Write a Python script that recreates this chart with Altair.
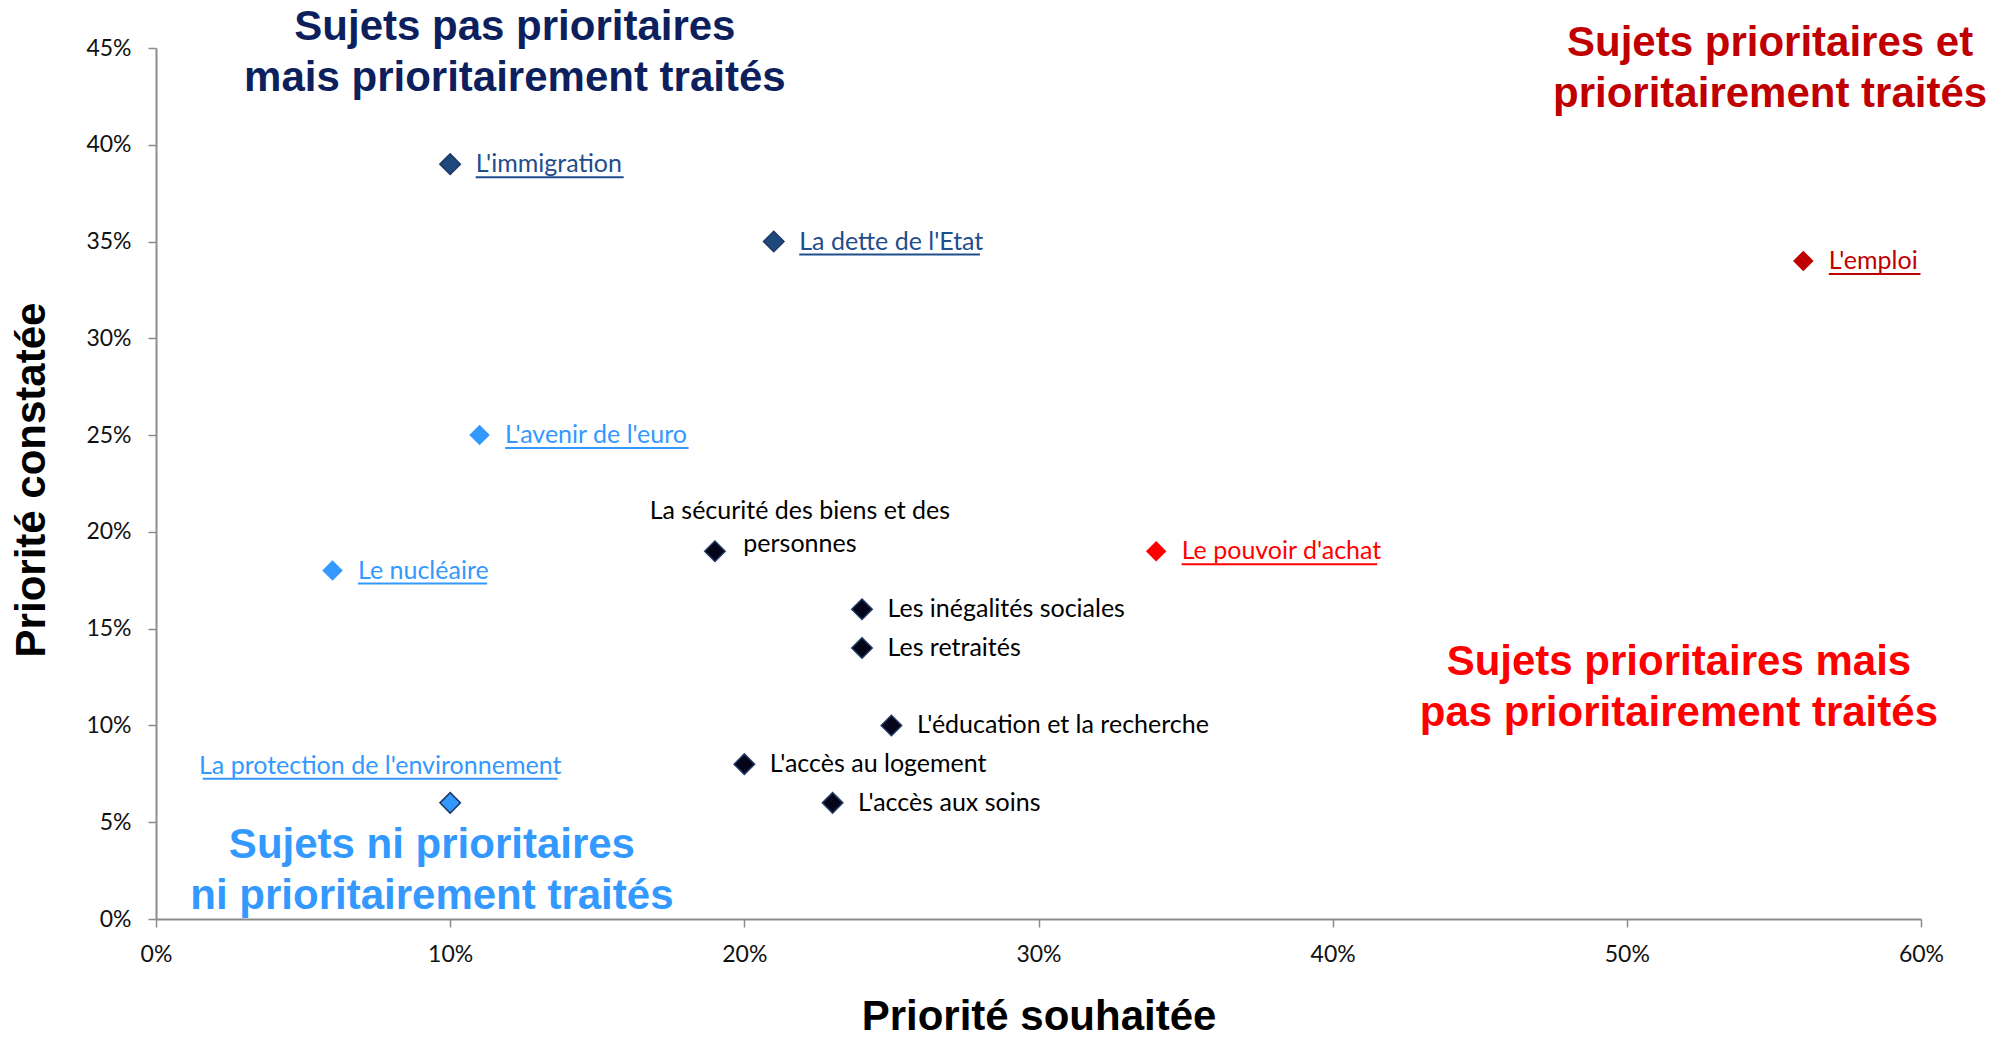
import altair as alt
import pandas as pd

# ---------------- data ----------------
sujets = [
    "L'immigration", "La dette de l'Etat", "L'emploi", "L'avenir de l'euro",
    "Le nucléaire", "La sécurité des biens et des personnes", "Le pouvoir d'achat",
    "Les inégalités sociales", "Les retraités", "L'éducation et la recherche",
    "L'accès au logement", "L'accès aux soins", "La protection de l'environnement",
]
priorite_souhaitee = [0.10, 0.21, 0.56, 0.11, 0.06, 0.19, 0.34, 0.24, 0.24, 0.25, 0.20, 0.23, 0.10]
priorite_constatee = [0.39, 0.35, 0.34, 0.25, 0.18, 0.19, 0.19, 0.16, 0.14, 0.10, 0.08, 0.06, 0.06]
groupes = ["pas_mais", "pas_mais", "et", "ni_ni", "ni_ni", "neutre", "mais_pas",
           "neutre", "neutre", "neutre", "neutre", "neutre", "ni_ni"]

quadrant_textes = [
    "Sujets pas prioritaires\nmais prioritairement traités",
    "Sujets prioritaires et\nprioritairement traités",
    "Sujets prioritaires mais\npas prioritairement traités",
    "Sujets ni prioritaires\nni prioritairement traités",
]
quadrant_groupes = ["pas_mais", "et", "mais_pas", "ni_ni"]
quadrant_x = [0.122, 0.5487, 0.5177, 0.0938]
quadrant_y = [0.4608, 0.4528, 0.1330, 0.0384]

x_ticks = [0, 0.1, 0.2, 0.3, 0.4, 0.5, 0.6]
y_ticks = [0, 0.05, 0.10, 0.15, 0.20, 0.25, 0.30, 0.35, 0.40, 0.45]

# ---------------- styles ----------------
W, H = 1765, 871
X_MAX, Y_MAX = 0.6, 0.45
LABEL_FONT = "Lato"
LABEL_SIZE = 25
TITLE_FONT = "Liberation Sans"

grp_domain = ["pas_mais", "et", "mais_pas", "ni_ni", "neutre"]
marker_fill = ["#1F497D", "#C00000", "#FF0000", "#3399FF", "#050519"]
text_col = ["#1F4E8C", "#C00000", "#FF0000", "#3399FF", "#000000"]
quad_col = ["#0D1F5C", "#C00000", "#FF0000", "#3399FF", "#000000"]

df = pd.DataFrame({
    "sujet": sujets, "x": priorite_souhaitee, "y": priorite_constatee, "groupe": groupes,
})

# rough text-width estimate (em) for underlines
def em_width(s):
    w = 0.0
    for ch in s:
        if ch in "il'j":
            w += 0.235
        elif ch in "tfr":
            w += 0.345
        elif ch in "mw":
            w += 0.84
        elif ch == " ":
            w += 0.2
        elif ch == "s":
            w += 0.42
        elif ch == "c":
            w += 0.46
        elif ch == "a":
            w += 0.49
        elif ch == "L":
            w += 0.5
        elif ch.isupper():
            w += 0.6
        else:
            w += 0.54
    return w * LABEL_SIZE

px_x = W / X_MAX
px_y = H / Y_MAX
DX = 25.5
df["w"] = df["sujet"].map(em_width)

single = df[(df.groupe != "neutre") & (df.sujet != "La protection de l'environnement")].copy()
single["ux1"] = single.x + DX / px_x
single["ux2"] = single.x + (DX + single.w) / px_x
single["uy"] = single.y - 13 / px_y

env = df[df.sujet == "La protection de l'environnement"].copy()
env["ux1"] = env.x + (-70 - env.w / 2) / px_x
env["ux2"] = env.x + (-70 + env.w / 2) / px_x
env["uy"] = env.y + (37 - 13) / px_y

underline_df = pd.concat([single, env])

xs = alt.Scale(domain=[0, X_MAX], nice=False, zero=True)
ys = alt.Scale(domain=[0, Y_MAX], nice=False, zero=True)
color_text = alt.Color("groupe:N", scale=alt.Scale(domain=grp_domain, range=text_col), legend=None)

base = alt.Chart(df)

points = base.mark_point(shape="diamond", filled=True, size=420, strokeWidth=1.5, opacity=1).encode(
    x=alt.X("x:Q", scale=xs, axis=alt.Axis(
        values=x_ticks, format=".0%", grid=False, domainColor="#8C8C8C", domainWidth=2,
        tickColor="#8C8C8C", tickWidth=1.5, tickSize=8, labelFont=LABEL_FONT, labelFontSize=23,
        labelColor="#111111", labelPadding=16, labelFlush=False, title="Priorité souhaitée",
        titleFont=TITLE_FONT, titleFontSize=42, titleFontWeight="bold", titleColor="#000000",
        titleY=110, titleBaseline="alphabetic")),
    y=alt.Y("y:Q", scale=ys, axis=alt.Axis(
        values=y_ticks, format=".0%", grid=False, domainColor="#8C8C8C", domainWidth=2,
        tickColor="#8C8C8C", tickWidth=1.5, tickSize=8, labelFont=LABEL_FONT, labelFontSize=23,
        labelColor="#111111", labelPadding=17, labelFlush=False, title="Priorité constatée",
        titleFont=TITLE_FONT, titleFontSize=42, titleFontWeight="bold", titleColor="#000000",
        titleAngle=-90, titleX=-125, titleY=H / 2 - 4, titleBaseline="middle",
        titleAlign="center")),
    fill=alt.Fill("groupe:N", scale=alt.Scale(domain=grp_domain, range=marker_fill), legend=None),
    stroke=alt.condition(
        (alt.datum.groupe == "neutre") | (alt.datum.sujet == "La protection de l'environnement")
        | (alt.datum.groupe == "pas_mais"),
        alt.value("#1F3864"), alt.value("transparent")),
)

labels_single = base.mark_text(
    align="left", baseline="middle", dx=DX, font=LABEL_FONT, fontSize=LABEL_SIZE
).encode(
    x=alt.X("x:Q", scale=xs), y=alt.Y("y:Q", scale=ys), text="sujet:N", color=color_text
).transform_filter(
    (alt.datum.sujet != "La sécurité des biens et des personnes")
    & (alt.datum.sujet != "La protection de l'environnement")
)

label_secu = base.transform_filter(
    alt.datum.sujet == "La sécurité des biens et des personnes"
).transform_calculate(
    txt="['La sécurité des biens et des', 'personnes']"
).mark_text(
    align="center", baseline="middle", dx=85, dy=-40, lineHeight=33,
    font=LABEL_FONT, fontSize=LABEL_SIZE, color="#000000"
).encode(x=alt.X("x:Q", scale=xs), y=alt.Y("y:Q", scale=ys), text="txt:N")

label_env = base.transform_filter(
    alt.datum.sujet == "La protection de l'environnement"
).mark_text(
    align="center", baseline="middle", dx=-70, dy=-37, font=LABEL_FONT, fontSize=LABEL_SIZE
).encode(x=alt.X("x:Q", scale=xs), y=alt.Y("y:Q", scale=ys), text="sujet:N", color=color_text)

underlines = alt.Chart(underline_df).mark_rule(strokeWidth=2).encode(
    x=alt.X("ux1:Q", scale=xs), x2="ux2:Q", y=alt.Y("uy:Q", scale=ys), color=color_text
)

qdf = pd.DataFrame({"txt": quadrant_textes, "groupe": quadrant_groupes, "x": quadrant_x, "y": quadrant_y})
quadrants = alt.Chart(qdf).mark_text(
    align="center", baseline="middle", lineBreak="\n", lineHeight=51,
    font=TITLE_FONT, fontSize=42, fontWeight="bold"
).encode(
    x=alt.X("x:Q", scale=xs), y=alt.Y("y:Q", scale=ys), text="txt:N",
    color=alt.Color("groupe:N", scale=alt.Scale(domain=grp_domain, range=quad_col), legend=None),
)

chart = alt.layer(
    underlines, points, labels_single, label_secu, label_env, quadrants
).resolve_scale(color="independent").properties(
    width=W, height=H,
    background="white",
    autosize=alt.AutoSizeParams(type="none"),
    padding={"left": 148, "top": 40, "right": 74, "bottom": 114},
).configure_view(stroke=None)

chart.save("out.html", embed_options={"renderer": "svg", "actions": False})
